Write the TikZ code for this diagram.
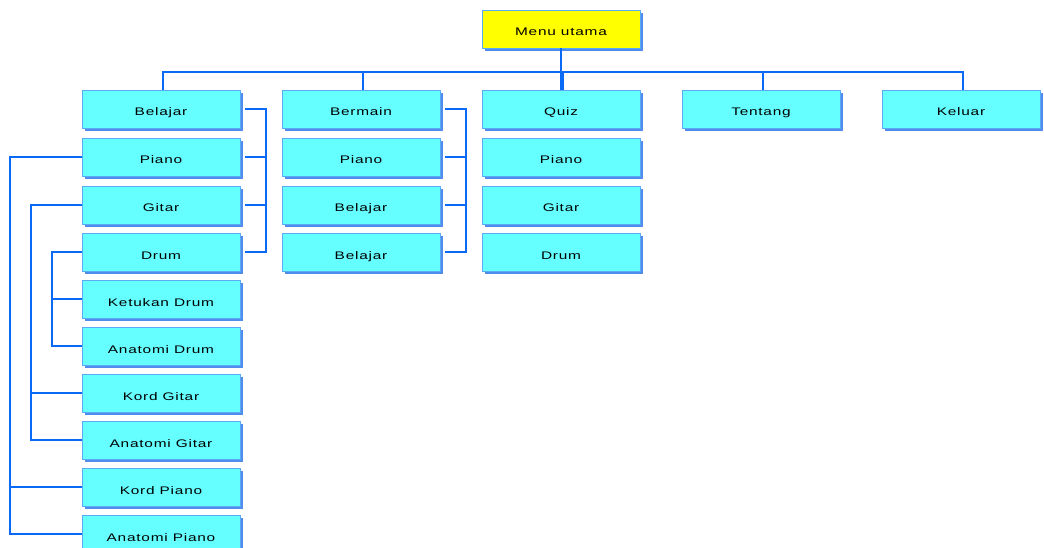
\documentclass[tikz,border=0pt]{standalone}
\usepackage{fontspec}
\setmainfont{Liberation Sans}
\newfontfamily\boxfont{Liberation Sans}[FakeStretch=1.4, LetterSpace=7]
\usetikzlibrary{positioning, shadows}
\definecolor{boxcyan}{RGB}{102,255,255}
\definecolor{boxedge}{RGB}{90,170,245}
\definecolor{boxshade}{RGB}{80,140,235}
\definecolor{menuyellow}{RGB}{255,255,0}
\definecolor{linkblue}{RGB}{10,105,245}
\tikzset{
  menubox/.style={rectangle, draw=boxedge, fill=boxcyan, line width=0.8pt,
    minimum width=158pt, minimum height=38pt, inner sep=0pt,
    text height=14pt, text depth=0pt,
    font=\boxfont\fontsize{11}{13}\selectfont,
    general shadow={fill=boxshade, shadow xshift=3pt, shadow yshift=-3pt}},
  topbox/.style={menubox, fill=menuyellow},
  link/.style={line width=2.4pt, color=linkblue},
  sublink/.style={line width=2pt, color=linkblue}
}
\begin{document}
\begin{tikzpicture}[x=1pt, y=-1pt]
\useasboundingbox (0,0) rectangle (1044,548);

% main menu
\node[topbox] (menu) at (561,29) {Menu utama};

% first level
\node[menubox] (belajar) at (161,109) {Belajar};
\node[menubox] (bermain) at (361,109) {Bermain};
\node[menubox] (quiz)    at (561,109) {Quiz};
\node[menubox] (tentang) at (761,109) {Tentang};
\node[menubox] (keluar)  at (961,109) {Keluar};

% Belajar column
\node[menubox] (bpiano) at (161,157) {Piano};
\node[menubox] (bgitar) at (161,205) {Gitar};
\node[menubox] (bdrum)  at (161,252) {Drum};
\node[menubox] (ketdrum) at (161,299) {Ketukan Drum};
\node[menubox] (anadrum) at (161,346) {Anatomi Drum};
\node[menubox] (kordgitar) at (161,393) {Kord Gitar};
\node[menubox] (anagitar)  at (161,440) {Anatomi Gitar};
\node[menubox] (kordpiano) at (161,487) {Kord Piano};
\node[menubox] (anapiano)  at (161,534) {Anatomi Piano};

% Bermain column
\node[menubox] (mpiano)    at (361,157) {Piano};
\node[menubox] (mbelajar)  at (361,205) {Belajar};
\node[menubox] (mbelajarb) at (361,252) {Belajar};

% Quiz column
\node[menubox] (qpiano) at (561,157) {Piano};
\node[menubox] (qgitar) at (561,205) {Gitar};
\node[menubox] (qdrum)  at (561,252) {Drum};

% bus below the main menu
\coordinate (bus) at (563,72);
\draw[link] (menu.south) -- (menu.south |- belajar.north);
\draw[link] ([xshift=2pt]belajar.north) -- ([xshift=2pt]belajar.north |- bus)
  -- ([xshift=2pt]keluar.north |- bus) -- ([xshift=2pt]keluar.north);
\foreach \n in {bermain, quiz, tentang}
  \draw[link] ([xshift=2pt]\n.north) -- ([xshift=2pt]\n.north |- bus);

% right brackets
\coordinate (rbel) at (266,0);
\coordinate (rber) at (466,0);
\draw[sublink] ([xshift=5pt]belajar.east) -- (belajar.east -| rbel)
  -- (bdrum.east -| rbel) -- ([xshift=5pt]bdrum.east);
\foreach \n in {bpiano, bgitar}
  \draw[sublink] ([xshift=5pt]\n.east) -- (\n.east -| rbel);
\draw[sublink] ([xshift=5pt]bermain.east) -- (bermain.east -| rber)
  -- (mbelajarb.east -| rber) -- ([xshift=5pt]mbelajarb.east);
\foreach \n in {mpiano, mbelajar}
  \draw[sublink] ([xshift=5pt]\n.east) -- (\n.east -| rber);

% left brackets
\coordinate (lpia) at (10,0);
\coordinate (lgit) at (31,0);
\coordinate (ldru) at (52,0);
\draw[sublink] (bpiano.west) -- (bpiano.west -| lpia)
  -- (anapiano.west -| lpia) -- (anapiano.west);
\draw[sublink] (kordpiano.west) -- (kordpiano.west -| lpia);
\draw[sublink] (bgitar.west) -- (bgitar.west -| lgit)
  -- (anagitar.west -| lgit) -- (anagitar.west);
\draw[sublink] (kordgitar.west) -- (kordgitar.west -| lgit);
\draw[sublink] (bdrum.west) -- (bdrum.west -| ldru)
  -- (anadrum.west -| ldru) -- (anadrum.west);
\draw[sublink] (ketdrum.west) -- (ketdrum.west -| ldru);
\end{tikzpicture}
\end{document}
